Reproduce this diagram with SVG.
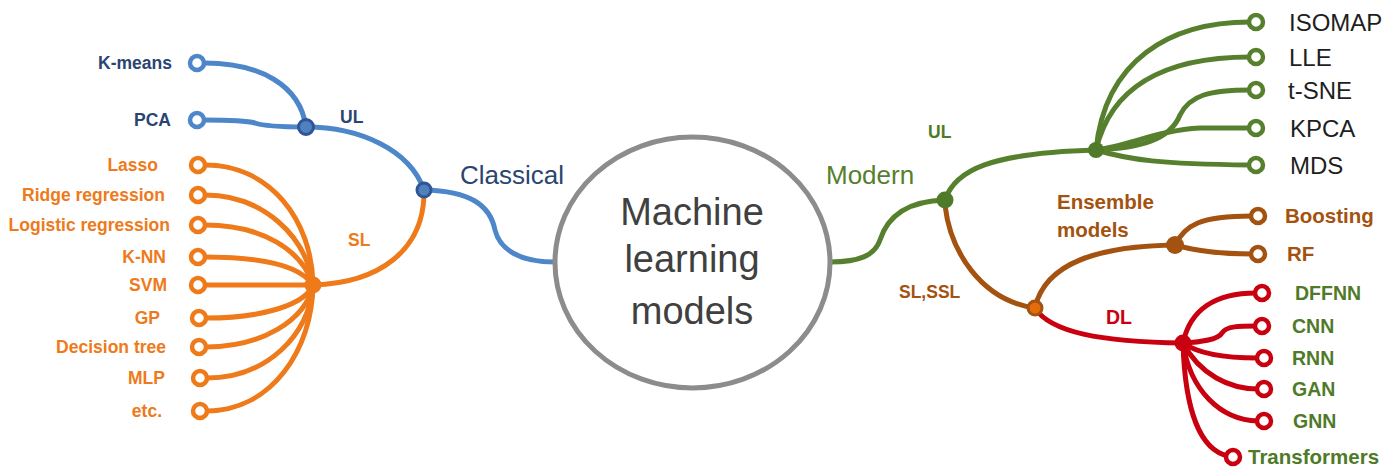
<svg xmlns="http://www.w3.org/2000/svg" width="1396" height="468" viewBox="0 0 1396 468">
  <style>
    .ln { fill: none; stroke-width: 5; stroke-linecap: round; }
    .blue { stroke: #4E87C9; }
    .orange { stroke: #EE7A1A; }
    .green { stroke: #56802E; }
    .brown { stroke: #A3520F; }
    .red { stroke: #C9000F; }
    .leaf { fill: #FFFFFF; stroke-width: 4.5; }
    .lbl { font-family: "Liberation Sans", Arial, sans-serif; font-weight: bold; font-size: 17.5px; }
    .lg { font-size: 20.5px; }
    .md { font-size: 19.5px; }
    .tblue { fill: #2A4571; }
    .torange { fill: #EE7A1A; }
    .tgreen { fill: #4F7A28; }
    .tbrown { fill: #A3520F; }
    .tred { fill: #C9000F; }
    .dim { font-family: "Liberation Sans", Arial, sans-serif; font-size: 24px; fill: #1E1E1E; }
    .branch { font-family: "Liberation Sans", Arial, sans-serif; font-size: 26px; }
    .core { font-family: "Liberation Sans", Arial, sans-serif; font-size: 38px; fill: #404040; }
  </style>

  <!-- connectors -->
  <g id="connectors">
    <!-- classical side -->
    <path class="ln blue" d="M 555 262 C 520 262, 500 250, 495 230 C 490 205, 470 191, 424 190"/>
    <path class="ln blue" d="M 306 127 C 360 127, 410 150, 424 190"/>
    <path class="ln blue" d="M 204 63 C 260 63, 300 85, 306 127"/>
    <path class="ln blue" d="M 204 120 C 232 120, 248 121, 255 123 C 266 127, 290 127, 306 127"/>
    <path class="ln orange" d="M 424 196 C 422 250, 380 283, 313 285"/>
    <path class="ln orange" d="M 205 165 C 270 165, 312 220, 313 285"/>
    <path class="ln orange" d="M 205 195 C 262 195, 306 235, 313 285"/>
    <path class="ln orange" d="M 205 225 C 262 225, 302 250, 313 285"/>
    <path class="ln orange" d="M 205 257 C 262 257, 300 265, 313 285"/>
    <path class="ln orange" d="M 205 285 L 313 285"/>
    <path class="ln orange" d="M 206 318 C 262 318, 305 305, 313 285"/>
    <path class="ln orange" d="M 206 347 C 262 347, 306 320, 313 285"/>
    <path class="ln orange" d="M 207 378 C 266 378, 310 335, 313 285"/>
    <path class="ln orange" d="M 207 411 C 272 410, 312 350, 313 285"/>
    <!-- modern side -->
    <path class="ln green" d="M 830 262 C 860 262, 875 255, 880 240 C 888 215, 910 201, 945 200"/>
    <path class="ln green" d="M 945 200 C 955 170, 990 153, 1096 150"/>
    <path class="ln green" d="M 1096 150 C 1105 60, 1170 22, 1250 22"/>
    <path class="ln green" d="M 1096 150 C 1110 90, 1160 57, 1250 57"/>
    <path class="ln green" d="M 1096 150 C 1140 148, 1170 140, 1180 115 C 1190 95, 1210 90, 1250 90"/>
    <path class="ln green" d="M 1096 150 C 1130 145, 1160 130, 1200 128 L 1250 128"/>
    <path class="ln green" d="M 1096 150 C 1130 160, 1160 164, 1250 165"/>
    <path class="ln brown" d="M 945 205 C 950 250, 980 300, 1035 308"/>
    <path class="ln brown" d="M 1035 308 C 1045 262, 1100 246, 1175 245"/>
    <path class="ln brown" d="M 1175 245 C 1185 225, 1200 216, 1252 216"/>
    <path class="ln brown" d="M 1175 245 C 1200 252, 1230 254, 1252 254"/>
    <path class="ln red" d="M 1035 308 C 1050 332, 1100 342, 1183 343"/>
    <path class="ln red" d="M 1183 343 C 1190 310, 1215 293, 1256 293"/>
    <path class="ln red" d="M 1183 343 C 1200 342, 1218 340, 1222 333 C 1226 326, 1240 326, 1256 326"/>
    <path class="ln red" d="M 1183 343 C 1200 355, 1230 358, 1258 358"/>
    <path class="ln red" d="M 1183 343 C 1200 375, 1230 389, 1258 389"/>
    <path class="ln red" d="M 1183 343 C 1190 390, 1220 420, 1258 421"/>
    <path class="ln red" d="M 1183 343 C 1185 410, 1200 450, 1228 456"/>
  </g>

  <!-- central node -->
  <g id="node-ml">
    <ellipse cx="692.5" cy="262.5" rx="137.5" ry="125.5" fill="#FFFFFF" stroke="#8C8C8C" stroke-width="5"/>
    <text class="core" x="692" y="225" text-anchor="middle">Machine</text>
    <text class="core" x="692" y="272" text-anchor="middle">learning</text>
    <text class="core" x="692" y="324" text-anchor="middle">models</text>
  </g>

  <!-- classical branch -->
  <g id="node-classical">
    <circle cx="424" cy="190" r="7" fill="#4F81BD" stroke="#2F5597" stroke-width="3"/>
    <text class="branch" x="460" y="184" fill="#2A4571">Classical</text>
  </g>
  <g id="node-classical-ul">
    <circle cx="306" cy="127" r="7.5" fill="#4F81BD" stroke="#2F5597" stroke-width="3"/>
    <text class="lbl tblue" x="340" y="123">UL</text>
  </g>
  <g id="node-kmeans">
    <circle class="leaf blue" cx="197" cy="63" r="7" stroke="#2F5597"/>
    <text class="lbl tblue" x="172" y="69" text-anchor="end">K-means</text>
  </g>
  <g id="node-pca">
    <circle class="leaf blue" cx="197" cy="120" r="7" stroke="#2F5597"/>
    <text class="lbl tblue" x="171" y="126" text-anchor="end">PCA</text>
  </g>
  <g id="node-classical-sl">
    <circle cx="313" cy="285" r="8.5" fill="#EE7A1A"/>
    <text class="lbl torange" x="348" y="246">SL</text>
  </g>
  <g id="node-lasso">
    <circle class="leaf orange" cx="198" cy="165" r="7"/>
    <text class="lbl torange" x="158" y="171" text-anchor="end">Lasso</text>
  </g>
  <g id="node-ridge">
    <circle class="leaf orange" cx="198" cy="195" r="7"/>
    <text class="lbl torange" x="165" y="201" text-anchor="end">Ridge regression</text>
  </g>
  <g id="node-logistic">
    <circle class="leaf orange" cx="198" cy="225" r="7"/>
    <text class="lbl torange" x="170" y="231" text-anchor="end">Logistic regression</text>
  </g>
  <g id="node-knn">
    <circle class="leaf orange" cx="198" cy="257" r="7"/>
    <text class="lbl torange" x="166" y="263" text-anchor="end">K-NN</text>
  </g>
  <g id="node-svm">
    <circle class="leaf orange" cx="198" cy="285" r="7"/>
    <text class="lbl torange" x="167" y="291" text-anchor="end">SVM</text>
  </g>
  <g id="node-gp">
    <circle class="leaf orange" cx="199" cy="318" r="7"/>
    <text class="lbl torange" x="160" y="324" text-anchor="end">GP</text>
  </g>
  <g id="node-tree">
    <circle class="leaf orange" cx="199" cy="347" r="7"/>
    <text class="lbl torange" x="166" y="353" text-anchor="end">Decision tree</text>
  </g>
  <g id="node-mlp">
    <circle class="leaf orange" cx="200" cy="378" r="7"/>
    <text class="lbl torange" x="165" y="384" text-anchor="end">MLP</text>
  </g>
  <g id="node-etc">
    <circle class="leaf orange" cx="200" cy="411" r="7"/>
    <text class="lbl torange" x="162" y="417" text-anchor="end">etc.</text>
  </g>

  <!-- modern branch -->
  <g id="node-modern">
    <circle cx="945" cy="200" r="8.5" fill="#4E7A2A"/>
    <text class="branch" x="826" y="184" fill="#56802E">Modern</text>
  </g>
  <g id="node-modern-ul">
    <circle cx="1096" cy="150" r="8" fill="#4E7A2A"/>
    <text class="lbl tgreen" x="928" y="138">UL</text>
  </g>
  <g id="node-isomap">
    <circle class="leaf green" cx="1256" cy="22" r="7"/>
    <text class="dim" x="1289" y="31">ISOMAP</text>
  </g>
  <g id="node-lle">
    <circle class="leaf green" cx="1256" cy="57" r="7"/>
    <text class="dim" x="1289" y="66">LLE</text>
  </g>
  <g id="node-tsne">
    <circle class="leaf green" cx="1256" cy="90" r="7"/>
    <text class="dim" x="1288" y="99">t-SNE</text>
  </g>
  <g id="node-kpca">
    <circle class="leaf green" cx="1256" cy="128" r="7"/>
    <text class="dim" x="1290" y="137">KPCA</text>
  </g>
  <g id="node-mds">
    <circle class="leaf green" cx="1256" cy="165" r="7"/>
    <text class="dim" x="1290" y="174">MDS</text>
  </g>
  <g id="node-sl-ssl">
    <circle cx="1035" cy="308" r="7" fill="#E46C0A" stroke="#A3520F" stroke-width="3"/>
    <text class="lbl tbrown" x="899" y="298">SL,SSL</text>
  </g>
  <g id="node-ensemble">
    <circle cx="1175" cy="245" r="9" fill="#A3520F"/>
    <text class="lbl lg tbrown" x="1057" y="209">Ensemble</text>
    <text class="lbl lg tbrown" x="1057" y="237">models</text>
  </g>
  <g id="node-boosting">
    <circle class="leaf brown" cx="1258" cy="216" r="7"/>
    <text class="lbl lg tbrown" x="1285" y="223">Boosting</text>
  </g>
  <g id="node-rf">
    <circle class="leaf brown" cx="1258" cy="254" r="7"/>
    <text class="lbl lg tbrown" x="1287" y="261">RF</text>
  </g>
  <g id="node-dl">
    <circle cx="1183" cy="343" r="8.5" fill="#C9000F"/>
    <text class="lbl md tred" x="1106" y="324">DL</text>
  </g>
  <g id="node-dffnn">
    <circle class="leaf red" cx="1262" cy="293" r="7"/>
    <text class="lbl md tgreen" x="1295" y="300">DFFNN</text>
  </g>
  <g id="node-cnn">
    <circle class="leaf red" cx="1262" cy="326" r="7"/>
    <text class="lbl md tgreen" x="1292" y="333">CNN</text>
  </g>
  <g id="node-rnn">
    <circle class="leaf red" cx="1264" cy="358" r="7"/>
    <text class="lbl md tgreen" x="1292" y="365">RNN</text>
  </g>
  <g id="node-gan">
    <circle class="leaf red" cx="1264" cy="389" r="7"/>
    <text class="lbl md tgreen" x="1292" y="396">GAN</text>
  </g>
  <g id="node-gnn">
    <circle class="leaf red" cx="1264" cy="421" r="7"/>
    <text class="lbl md tgreen" x="1293" y="428">GNN</text>
  </g>
  <g id="node-transformers">
    <circle class="leaf red" cx="1233" cy="457" r="7"/>
    <text class="lbl lg tgreen" x="1248" y="464">Transformers</text>
  </g>
</svg>
